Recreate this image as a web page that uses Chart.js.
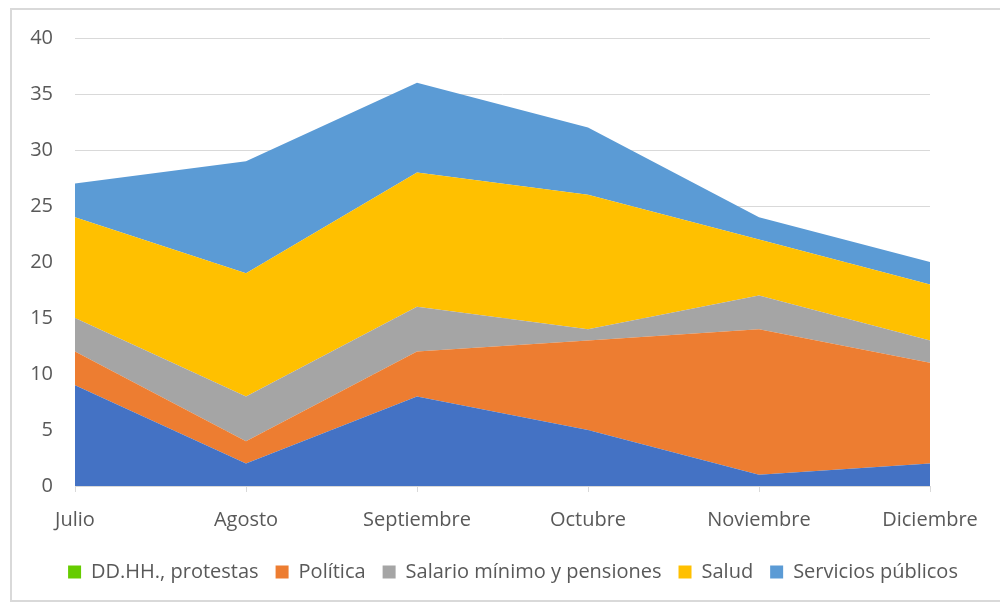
<!DOCTYPE html>
<html>
<head>
<meta charset="utf-8">
<script src="https://cdn.jsdelivr.net/npm/chart.js@4"></script>
<style>
    body { margin: 0; background: #fff; }
    #marco {
        position: absolute; left: 10px; top: 8px; width: 1000px; height: 594px;
        border: 2px solid #d9d9d9; box-sizing: border-box;
    }
    #wrap { position: absolute; left: 0; top: 0; width: 1000px; height: 608px; }
</style>
</head>
<body>
<div id="marco"></div>
<div id="wrap"><canvas id="grafico"></canvas></div>
<script>
    // Meses
    const meses = ['Julio', 'Agosto', 'Septiembre', 'Octubre', 'Noviembre', 'Diciembre'];

    // Valores por categoría (apilados)
    const otros = [9, 2, 8, 5, 1, 2];
    const ddhh = [0, 0, 0, 0, 0, 0];
    const politica = [3, 2, 4, 8, 13, 9];
    const salario = [3, 4, 4, 1, 3, 2];
    const salud = [9, 11, 12, 12, 5, 5];
    const servicios = [3, 10, 8, 6, 2, 2];

    const fuente = "'Open Sans', 'Noto Sans', sans-serif";

    function serie(label, data, color, fill) {
        return {
            label: label,
            data: data,
            backgroundColor: color,
            borderColor: color,
            borderWidth: 0,
            pointRadius: 0,
            tension: 0,
            fill: fill
        };
    }

    // mueve la leyenda un poco a la derecha, como en el original
    const moverLeyenda = {
        id: 'moverLeyenda',
        afterLayout: function (chart) {
            if (chart.legend) {
                chart.legend.left += 48;
                chart.legend.right += 48;
            }
        }
    };

    const ctx = document.getElementById('grafico').getContext('2d');
    new Chart(ctx, {
        type: 'line',
        data: {
            labels: meses,
            datasets: [
                serie('', otros, '#4472C4', 'origin'),
                serie('DD.HH., protestas', ddhh, '#66CC00', '-1'),
                serie('Política', politica, '#ED7D31', '-1'),
                serie('Salario mínimo y pensiones', salario, '#A5A5A5', '-1'),
                serie('Salud', salud, '#FFC000', '-1'),
                serie('Servicios públicos', servicios, '#5B9BD5', '-1')
            ]
        },
        plugins: [moverLeyenda],
        options: {
            responsive: true,
            maintainAspectRatio: false,
            animation: false,
            layout: {
                padding: { left: 0, right: 70, top: 38, bottom: 16 }
            },
            plugins: {
                legend: {
                    position: 'bottom',
                    labels: {
                        filter: function (item) { return item.text !== ''; },
                        boxWidth: 13,
                        boxHeight: 13,
                        padding: 17,
                        color: '#595959',
                        font: { family: fuente, size: 20 }
                    }
                },
                tooltip: { enabled: false }
            },
            scales: {
                x: {
                    offset: false,
                    grid: {
                        drawOnChartArea: false,
                        drawTicks: true,
                        tickLength: 6,
                        color: '#d9d9d9'
                    },
                    border: { color: '#d9d9d9' },
                    ticks: {
                        color: '#595959',
                        padding: 16,
                        maxRotation: 0,
                        font: { family: fuente, size: 20 }
                    },
                    afterFit: function (scale) { scale.height = 59; }
                },
                y: {
                    stacked: true,
                    min: 0,
                    max: 40,
                    ticks: {
                        stepSize: 5,
                        padding: 22,
                        color: '#595959',
                        font: { family: fuente, size: 20 }
                    },
                    grid: { color: '#d9d9d9', drawTicks: false },
                    border: { display: false },
                    afterFit: function (scale) { scale.width = 75; }
                }
            }
        }
    });
</script>
</body>
</html>
